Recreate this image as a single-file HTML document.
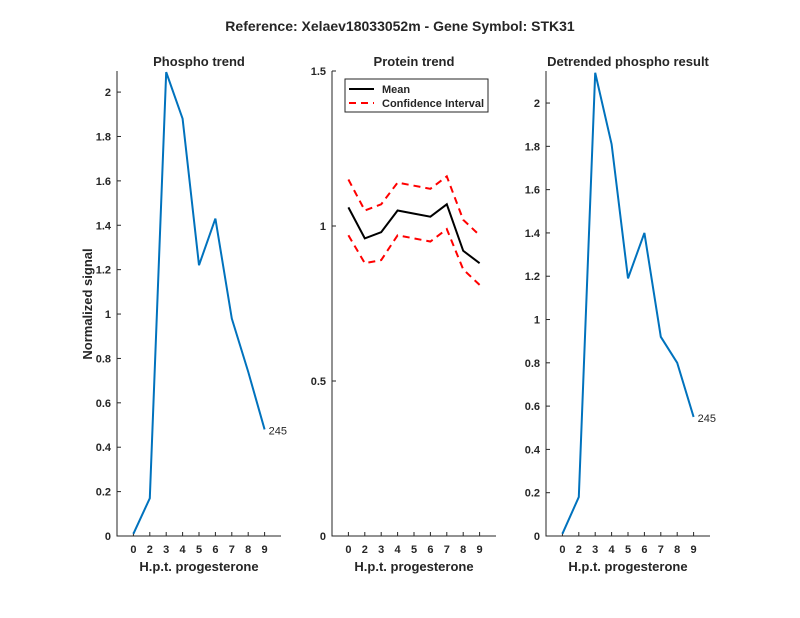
<!DOCTYPE html>
<html><head><meta charset="utf-8"><style>body{margin:0;background:#fff}svg{display:block}text{font-family:"Liberation Sans",Arial,sans-serif;fill:#262626}</style></head>
<body><svg id="s" width="800" height="618" xmlns="http://www.w3.org/2000/svg"></svg>
<script>
const s=document.getElementById('s');let h='';
h+='<text x="400" y="31" text-anchor="middle" font-size="14" font-weight="bold" fill="#000">Reference:  Xelaev18033052m - Gene Symbol:  STK31</text>';
const labs=['0','2','3','4','5','6','7','8','9'];
function ax(x0,title,ymax,yticks,ylabels,series,lab){
 const w=164,y0=536,top=71,sc=(y0-top)/ymax;
 const X=i=>x0+16.4*(i+1),Y=v=>y0-v*sc;
 h+=`<text x="${x0+w/2}" y="66" text-anchor="middle" font-size="13" font-weight="bold" fill="#000">${title}</text>`;
 h+=`<path d="M${x0} ${top}V${y0}H${x0+w}" fill="none" stroke="#262626" stroke-width="1"/>`;
 yticks.forEach((v,k)=>{const y=Y(v);h+=`<path d="M${x0} ${y}h4" stroke="#262626"/><text x="${x0-6}" y="${y+4}" text-anchor="end" font-size="11" font-weight="bold">${ylabels[k]}</text>`;});
 labs.forEach((l,i)=>{h+=`<path d="M${X(i)} ${y0}v-4" stroke="#262626"/><text x="${X(i)}" y="553" text-anchor="middle" font-size="11" font-weight="bold">${l}</text>`;});
 h+=`<text x="${x0+w/2}" y="571" text-anchor="middle" font-size="13" font-weight="bold">H.p.t. progesterone</text>`;
 series.forEach(([d,c,sw,da])=>{h+=`<polyline points="${d.map((v,i)=>X(i)+','+Y(v)).join(' ')}" fill="none" stroke="${c}" stroke-width="${sw}" ${da?'stroke-dasharray="'+da+'"':''}/>`;});
 if(lab){const d=series[0][0];h+=`<text x="${X(8)+4}" y="${Y(d[8])+5}" font-size="11" fill="#000">245</text>`;}
}
ax(117,'Phospho trend',2.095,[0,.2,.4,.6,.8,1,1.2,1.4,1.6,1.8,2],['0','0.2','0.4','0.6','0.8','1','1.2','1.4','1.6','1.8','2'],[[[0.01,0.17,2.09,1.88,1.22,1.43,0.98,0.74,0.48],'#0072bd',2]],1);
ax(332,'Protein trend',1.5,[0,.5,1,1.5],['0','0.5','1','1.5'],[
[[1.06,0.96,0.98,1.05,1.04,1.03,1.07,0.92,0.88],'#000',2],
[[1.15,1.05,1.07,1.14,1.13,1.12,1.16,1.02,0.97],'#f00',2,'7,5'],
[[0.97,0.88,0.89,0.97,0.96,0.95,0.99,0.86,0.81],'#f00',2,'7,5']]);
ax(546,'Detrended phospho result',2.148,[0,.2,.4,.6,.8,1,1.2,1.4,1.6,1.8,2],['0','0.2','0.4','0.6','0.8','1','1.2','1.4','1.6','1.8','2'],[[[0.01,0.18,2.14,1.81,1.19,1.40,0.92,0.80,0.55],'#0072bd',2]],1);
h+='<text transform="translate(92 304) rotate(-90)" text-anchor="middle" font-size="13" font-weight="bold">Normalized signal</text>';
h+='<rect x="345" y="79" width="143" height="33" fill="#fff" stroke="#262626"/><path d="M349 89h25" stroke="#000" stroke-width="2"/><path d="M349 103h25" stroke="#f00" stroke-width="2" stroke-dasharray="7,5"/><text x="382" y="93" font-size="11" font-weight="bold" fill="#000">Mean</text><text x="382" y="107" font-size="11" font-weight="bold" fill="#000">Confidence Interval</text>';
s.innerHTML=h;
</script></body></html>
